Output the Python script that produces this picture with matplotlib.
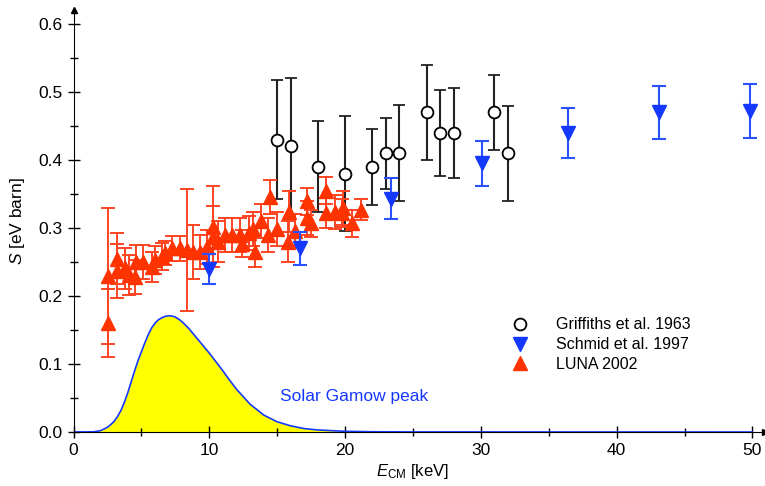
import numpy as np
import matplotlib.pyplot as plt

plt.rcParams['font.family'] = ['Liberation Sans', 'DejaVu Sans']
plt.rcParams['mathtext.fontset'] = 'custom'
plt.rcParams['mathtext.rm'] = 'Liberation Sans'
plt.rcParams['mathtext.it'] = 'Liberation Sans:italic'

# Griffiths et al. 1963
grif_e = [15, 16, 18, 20, 22, 23, 24, 26, 27, 28, 31, 32]
grif_s = [0.43, 0.42, 0.39, 0.38, 0.39, 0.41, 0.41, 0.47, 0.44, 0.44, 0.47, 0.41]
grif_err = [0.088, 0.10, 0.067, 0.085, 0.056, 0.052, 0.071, 0.07, 0.063, 0.066, 0.055, 0.07]

# Schmid et al. 1997
schmid_e = [10.0, 16.7, 23.4, 30.1, 36.4, 43.1, 49.8]
schmid_s = [0.24, 0.27, 0.343, 0.395, 0.44, 0.47, 0.472]
schmid_err = [0.022, 0.024, 0.03, 0.033, 0.037, 0.039, 0.04]

# LUNA 2002
luna_e = [2.55, 2.55, 3.2, 3.2, 3.8, 4.05, 4.5, 4.6, 5.15, 5.75, 6.0, 6.5, 6.75,
          7.25, 7.85, 8.35, 8.8, 9.3, 9.8, 10.3, 10.3, 10.65, 11.15, 11.65,
          12.25, 12.4, 12.9, 13.25, 13.35, 13.8, 14.35, 14.5, 14.95, 15.8,
          15.9, 16.3, 17.2, 17.2, 17.5, 18.6, 18.6, 19.25, 19.85, 19.8, 20.5, 21.2]
luna_s = [0.23, 0.16, 0.255, 0.237, 0.241, 0.231, 0.228, 0.25, 0.25, 0.243, 0.253,
          0.258, 0.263, 0.27, 0.27, 0.268, 0.265, 0.265, 0.272, 0.302, 0.287, 0.28,
          0.29, 0.29, 0.29, 0.277, 0.292, 0.298, 0.265, 0.311, 0.29, 0.346, 0.298,
          0.28, 0.324, 0.295, 0.339, 0.314, 0.307, 0.355, 0.322, 0.324, 0.329,
          0.322, 0.307, 0.327]
luna_err = [0.10, 0.05, 0.038, 0.04, 0.03, 0.03, 0.025, 0.025, 0.025, 0.022, 0.02,
            0.02, 0.018, 0.018, 0.018, 0.09, 0.04, 0.025, 0.025, 0.06, 0.045, 0.03,
            0.025, 0.025, 0.025, 0.02, 0.025, 0.025, 0.022, 0.025, 0.025, 0.025,
            0.025, 0.03, 0.03, 0.025, 0.02, 0.025, 0.02, 0.02, 0.022, 0.025, 0.025,
            0.02, 0.02, 0.015]

# solar Gamow peak (arbitrary units)
gamow_e = [0, 1.5, 2.0, 2.5, 2.75, 3.0, 3.25, 3.5, 3.75, 4.0, 4.25, 4.5, 4.75, 5.0,
           5.25, 5.5, 5.75, 6.0, 6.25, 6.5, 6.75, 7.0, 7.25, 7.5, 7.75, 8.0, 8.25,
           8.5, 8.75, 9.0, 9.5, 10, 10.5, 11, 11.5, 12, 12.5, 13, 13.5, 14, 14.5,
           15, 16, 17, 18, 20, 22, 25, 50]
gamow_s = [0, 0.0003, 0.002, 0.007, 0.011, 0.016, 0.023, 0.032, 0.044, 0.058,
           0.074, 0.09, 0.105, 0.118, 0.131, 0.143, 0.153, 0.16, 0.165, 0.168,
           0.170, 0.171, 0.1705, 0.169, 0.166, 0.162, 0.157, 0.152, 0.146, 0.14,
           0.128, 0.116, 0.103, 0.09, 0.076, 0.063, 0.052, 0.041, 0.033, 0.025,
           0.02, 0.015, 0.009, 0.005, 0.003, 0.001, 0.0004, 0.0001, 0]

red = '#ff3300'
blue = '#1538ff'

fig = plt.figure(figsize=(7.65, 4.86), dpi=100)
ax = fig.add_axes([0.0961, 0.1111, 0.9035, 0.8675])

ax.fill_between(gamow_e, gamow_s, color='#ffff00', lw=0, zorder=1)
ax.plot(gamow_e, gamow_s, color=blue, lw=1.2, zorder=2)
ax.text(15.2, 0.045, 'Solar Gamow peak', color=blue, fontsize=12.5)

ax.errorbar(grif_e, grif_s, yerr=grif_err, fmt='o', ms=8.5, mfc='white', mec='black',
            mew=1.3, ecolor='#222222', elinewidth=1.5, capsize=4.5, capthick=1.5,
            zorder=3, label='Griffiths et al. 1963')
ax.errorbar(luna_e, luna_s, yerr=luna_err, fmt='^', ms=10, color=red, mec=red,
            ecolor='#ff4422', elinewidth=1.4, capsize=5, capthick=1.4,
            zorder=4, label='LUNA 2002')
ax.errorbar(schmid_e, schmid_s, yerr=schmid_err, fmt='v', ms=9.5, color=blue, mec=blue,
            ecolor='#2a50ff', elinewidth=1.5, capsize=5, capthick=1.5,
            zorder=5, label='Schmid et al. 1997')

h, l = ax.get_legend_handles_labels()
order = [0, 2, 1]
leg = ax.legend([h[i][0] for i in order], [l[i] for i in order], loc='upper left',
                bbox_to_anchor=(0.612, 0.306), frameon=False, fontsize=11.5,
                handletextpad=1.6, labelspacing=0.3, handlelength=1.2)

ax.set_xlim(0, 50.9)
ax.set_ylim(0, 0.62)
ax.spines['top'].set_visible(False)
ax.spines['right'].set_visible(False)
ax.set_xticks([0, 10, 20, 30, 40, 50])
ax.set_xticks([5, 15, 25, 35, 45], minor=True)
ax.set_yticks([0.0, 0.1, 0.2, 0.3, 0.4, 0.5, 0.6])
ax.set_yticks([0.05, 0.15, 0.25, 0.35, 0.45, 0.55], minor=True)
ax.set_yticklabels(['0.0', '0.1', '0.2', '0.3', '0.4', '0.5', '0.6'])
ax.tick_params(which='major', direction='inout', length=9, width=1, labelsize=12.5)
ax.tick_params(which='minor', direction='inout', length=6, width=1)
ax.plot(1, 0, '>k', ms=5, transform=ax.transAxes, clip_on=False)
ax.plot(0, 1, '^k', ms=5, transform=ax.transAxes, clip_on=False)

ax.set_xlabel(r'$E_{\rm CM}$ [keV]', fontsize=12, labelpad=3)
ax.xaxis.set_label_coords(0.49, -0.07)
ax.set_ylabel(r'$S$ [eV barn]', fontsize=12.5, labelpad=8)

fig.savefig('out.png', dpi=100)
